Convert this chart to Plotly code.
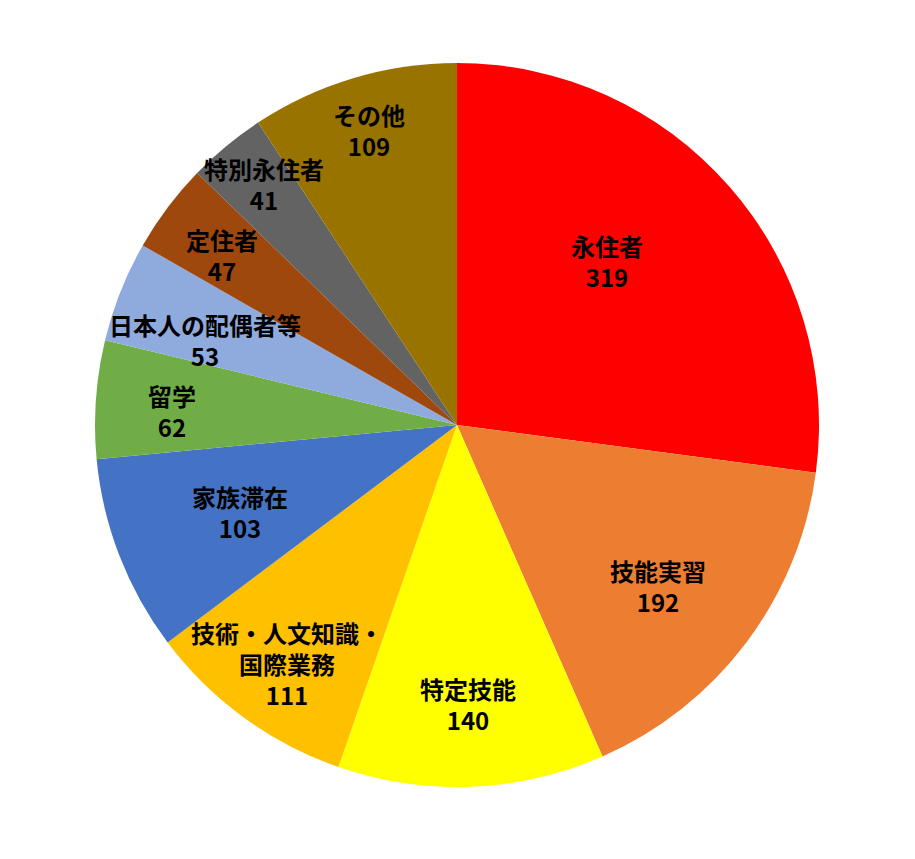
import numpy as np
import plotly.graph_objects as go

W, H = 915, 859

# --- data ---
labels = [
    "永住者", "技能実習", "特定技能", "技術・人文知識・<br>国際業務", "家族滞在",
    "留学", "日本人の配偶者等", "定住者", "特別永住者", "その他",
]
values = [319, 192, 140, 111, 103, 62, 53, 47, 41, 109]

colors = [
    "#FF0000", "#ED7D31", "#FFFF00", "#FFC000", "#4472C4",
    "#70AD47", "#8FAADC", "#9E480E", "#636363", "#997300",
]
# label placement: fraction of radius, and nudge (deg) from the slice mid angle
label_radius = [0.613, 0.711, 0.771, 0.809, 0.646, 0.787, 0.735, 0.801, 0.854, 0.851]
label_nudge = [-6.4, 1.8, 0.0, -0.7, -0.6, -1.2, -3.0, -1.0, 0.9, 0.0]

# pie placement (pixels, page body adds 8px offset)
px0, px1, py0, py1 = 87, 811, 55, 779
dom_x = [px0 / W, px1 / W]
dom_y = [1 - py1 / H, 1 - py0 / H]

fig = go.Figure(
    go.Pie(
        labels=labels,
        values=values,
        sort=False,
        direction="clockwise",
        rotation=0,
        marker=dict(colors=colors, line=dict(width=0)),
        textinfo="none",
        hoverinfo="label+value",
        domain=dict(x=dom_x, y=dom_y),
        showlegend=False,
    )
)

# labels at (nudged) mid angle of each slice
cx, cy = (px0 + px1) / 2, (py0 + py1) / 2
R = (px1 - px0) / 2
vals = np.array(values, dtype=float)
cum = np.cumsum(vals) - vals / 2
mid = cum / vals.sum() * 360
for lbl, v, a, rf, nd in zip(labels, values, mid, label_radius, label_nudge):
    t = np.radians(a + nd)
    x = cx + rf * R * np.sin(t)
    y = cy - rf * R * np.cos(t)
    fig.add_annotation(
        x=x / W,
        y=1 - y / H,
        xref="paper",
        yref="paper",
        xanchor="center",
        yanchor="middle",
        text=f"<b>{lbl}<br>{v}</b>",
        showarrow=False,
        font=dict(family="Noto Sans CJK JP", size=24, color="black"),
        align="center",
    )

fig.update_layout(
    width=W,
    height=H,
    margin=dict(l=0, r=0, t=0, b=0),
    paper_bgcolor="white",
    plot_bgcolor="white",
)

fig.write_html("out.html")
